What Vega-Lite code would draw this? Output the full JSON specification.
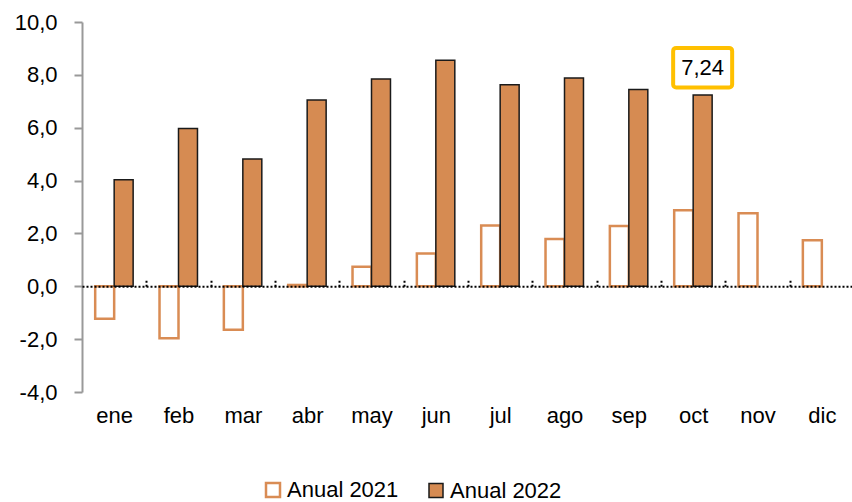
{
  "$schema": "https://vega.github.io/schema/vega-lite/v6.json",
  "width": 772,
  "height": 370,
  "autosize": "none",
  "padding": {"left": 82, "top": 22, "right": 0, "bottom": 110},
  "background": "white",
  "datasets": {
    "bars": [
      {"mes": "ene", "serie": "Anual 2021", "valor": -1.23},
      {"mes": "ene", "serie": "Anual 2022", "valor": 4.03},
      {"mes": "feb", "serie": "Anual 2021", "valor": -1.97},
      {"mes": "feb", "serie": "Anual 2022", "valor": 5.97},
      {"mes": "mar", "serie": "Anual 2021", "valor": -1.64},
      {"mes": "mar", "serie": "Anual 2022", "valor": 4.82},
      {"mes": "abr", "serie": "Anual 2021", "valor": 0.05},
      {"mes": "abr", "serie": "Anual 2022", "valor": 7.05},
      {"mes": "may", "serie": "Anual 2021", "valor": 0.74},
      {"mes": "may", "serie": "Anual 2022", "valor": 7.84},
      {"mes": "jun", "serie": "Anual 2021", "valor": 1.24},
      {"mes": "jun", "serie": "Anual 2022", "valor": 8.55},
      {"mes": "jul", "serie": "Anual 2021", "valor": 2.3},
      {"mes": "jul", "serie": "Anual 2022", "valor": 7.63},
      {"mes": "ago", "serie": "Anual 2021", "valor": 1.79},
      {"mes": "ago", "serie": "Anual 2022", "valor": 7.88},
      {"mes": "sep", "serie": "Anual 2021", "valor": 2.28},
      {"mes": "sep", "serie": "Anual 2022", "valor": 7.45},
      {"mes": "oct", "serie": "Anual 2021", "valor": 2.88},
      {"mes": "oct", "serie": "Anual 2022", "valor": 7.24},
      {"mes": "nov", "serie": "Anual 2021", "valor": 2.76},
      {"mes": "dic", "serie": "Anual 2021", "valor": 1.74}
    ],
    "nota": [
      {"mes": "oct", "serie": "Anual 2022", "bajo": 7.52, "alto": 9.02, "medio": 8.27, "texto": "7,24"}
    ]
  },
  "encoding": {
    "x": {
      "field": "mes",
      "type": "nominal",
      "sort": ["ene", "feb", "mar", "abr", "may", "jun", "jul", "ago", "sep", "oct", "nov", "dic"],
      "scale": {"paddingInner": 0.41, "paddingOuter": 0.205},
      "axis": {
        "orient": "bottom",
        "offset": -105.7,
        "title": null,
        "labelAngle": 0,
        "labelPadding": 127,
        "labelFontSize": 22,
        "labelColor": "black",
        "labelOffset": -32.17,
        "domainColor": "black",
        "domainDash": [2, 2],
        "domainWidth": 2,
        "tickOffset": 32.17,
        "tickColor": "black",
        "tickDash": [2, 2],
        "tickWidth": 2,
        "tickSize": -8,
        "zindex": 1
      }
    },
    "xOffset": {"field": "serie", "type": "nominal", "sort": ["Anual 2021", "Anual 2022"]}
  },
  "layer": [
    {
      "data": {"name": "bars"},
      "mark": {"type": "bar"},
      "encoding": {
        "y": {
          "field": "valor",
          "type": "quantitative",
          "stack": null,
          "scale": {"domain": [-4, 10], "nice": false, "zero": false},
          "axis": {
            "title": null,
            "values": [-4, -2, 0, 2, 4, 6, 8, 10],
            "labelExpr": "replace(replace(format(datum.value, '.1f'), '.', ','), '\u2212', '-')",
            "grid": false,
            "domainColor": "#999999",
            "domainWidth": 2,
            "tickColor": "#999999",
            "tickWidth": 2,
            "tickSize": 8,
            "labelPadding": 17,
            "labelFontSize": 22,
            "labelColor": "black"
          }
        },
        "fill": {
          "field": "serie",
          "type": "nominal",
          "scale": {"domain": ["Anual 2021", "Anual 2022"], "range": ["white", "#D68B52"]},
          "legend": {
            "title": null,
            "orient": "none",
            "direction": "horizontal",
            "legendX": 180,
            "legendY": 457,
            "symbolType": "square",
            "symbolSize": 196,
            "symbolStrokeWidth": 2,
            "labelFontSize": 22,
            "labelColor": "black",
            "labelOffset": 3,
            "columnPadding": 26
          }
        },
        "stroke": {
          "field": "serie",
          "type": "nominal",
          "scale": {"domain": ["Anual 2021", "Anual 2022"], "range": ["#D98C54", "#1a1a1a"]},
          "legend": {
            "title": null,
            "orient": "none",
            "direction": "horizontal",
            "legendX": 180,
            "legendY": 457,
            "symbolType": "square",
            "symbolSize": 196,
            "symbolStrokeWidth": 2,
            "labelFontSize": 22,
            "labelColor": "black",
            "labelOffset": 3,
            "columnPadding": 26
          }
        },
        "strokeWidth": {
          "field": "serie",
          "type": "nominal",
          "scale": {"domain": ["Anual 2021", "Anual 2022"], "range": [2.5, 1.5]},
          "legend": null
        }
      }
    },
    {
      "data": {"name": "nota"},
      "mark": {"type": "bar", "width": 59, "fill": "white", "stroke": "#FFC000", "strokeWidth": 4, "cornerRadius": 3},
      "encoding": {
        "y": {"field": "bajo", "type": "quantitative"},
        "y2": {"field": "alto"}
      }
    },
    {
      "data": {"name": "nota"},
      "mark": {"type": "text", "fontSize": 22, "color": "black", "baseline": "middle", "align": "center"},
      "encoding": {
        "y": {"field": "medio", "type": "quantitative"},
        "text": {"field": "texto"}
      }
    }
  ],
  "config": {
    "view": {"stroke": null},
    "font": "Liberation Sans, Arial"
  }
}
